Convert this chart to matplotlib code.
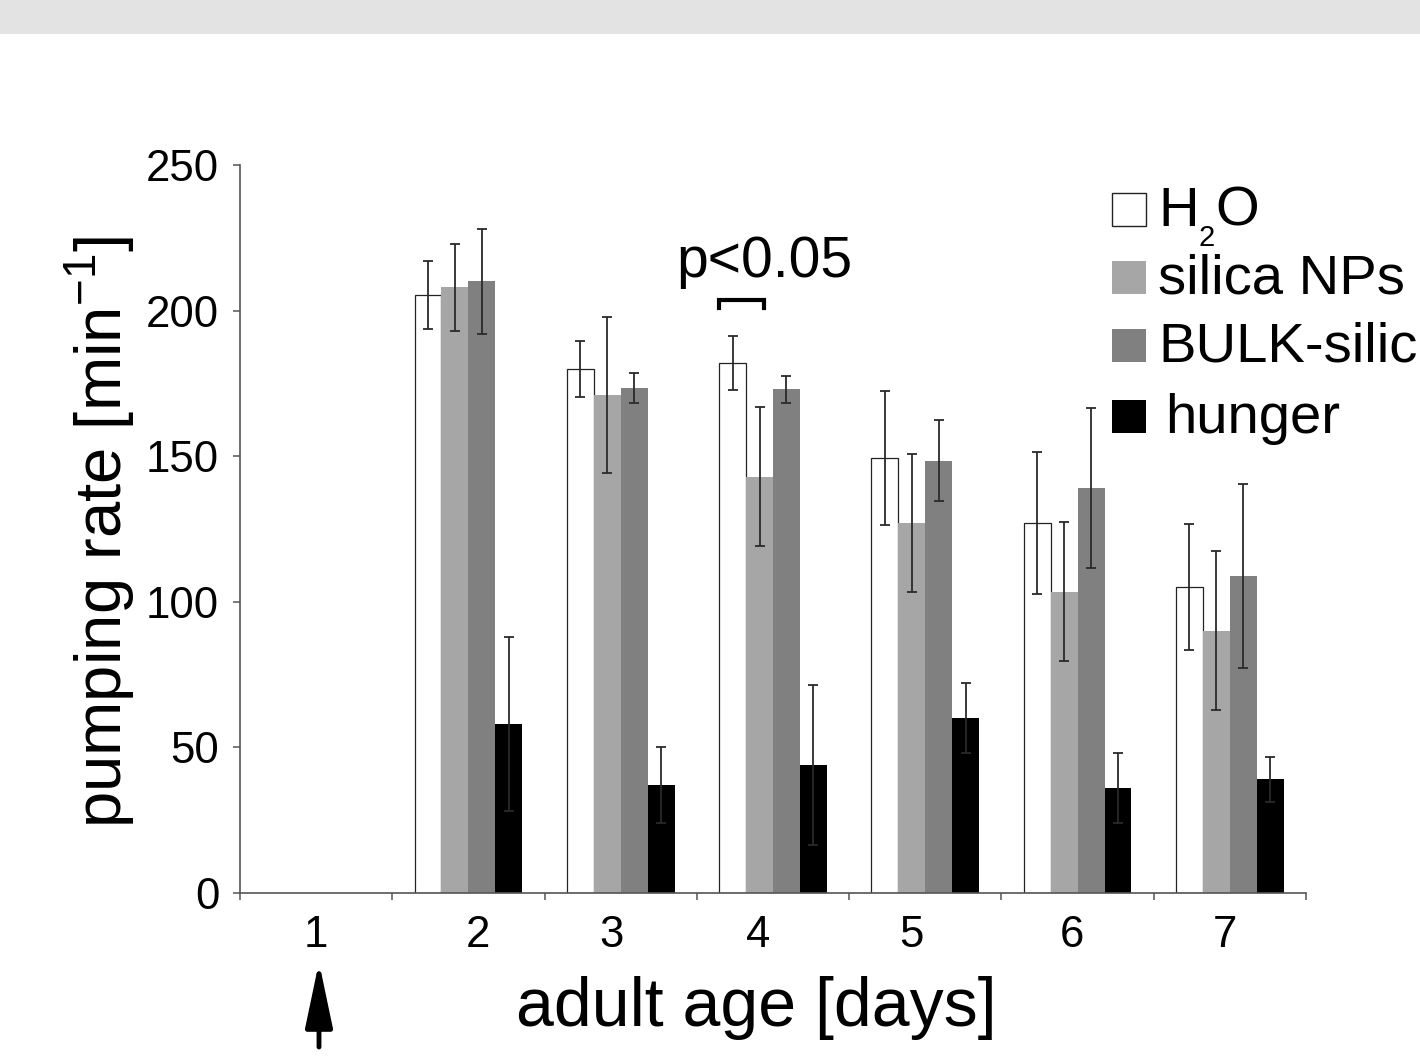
import matplotlib
matplotlib.use("Agg")
import matplotlib.pyplot as plt
import numpy as np
from matplotlib.patches import Rectangle

plt.rcParams["font.family"] = ["Liberation Sans", "DejaVu Sans"]
plt.rcParams["mathtext.fontset"] = "custom"
plt.rcParams["mathtext.rm"] = "Liberation Sans"

days = ["1", "2", "3", "4", "5", "6", "7"]
series = ["H2O", "silica NPs", "BULK-silic", "hunger"]
colors = ["white", "#a6a6a6", "#808080", "black"]

h2o = [np.nan, 205.5, 180, 182, 149.5, 127, 105]
h2o_err = [np.nan, 11.7, 9.5, 9.3, 23, 24.3, 21.6]
silica = [np.nan, 208, 171, 143, 127, 103.5, 90]
silica_err = [np.nan, 15, 26.7, 24, 23.8, 24, 27.3]
bulk = [np.nan, 210, 173.5, 173, 148.5, 139, 109]
bulk_err = [np.nan, 18, 5.2, 4.7, 14, 27.4, 31.6]
hunger = [np.nan, 58, 37, 44, 60, 36, 39]
hunger_err = [np.nan, 30, 13, 27.5, 12, 12, 7.7]

values = [h2o, silica, bulk, hunger]
errors = [h2o_err, silica_err, bulk_err, hunger_err]

W, H = 1420, 1058


def fx(px):
    return px / W


def fy(py):
    return 1 - py / H


fig = plt.figure(figsize=(14.2, 10.58), dpi=100)
fig.patches.append(Rectangle((0, fy(34)), 1, 34 / H, transform=fig.transFigure,
                             facecolor="#e3e3e3", edgecolor="none", zorder=0))
ax = fig.add_axes([fx(240), fy(893), 1066 / W, 728 / H])

x = np.arange(len(days))
w = 0.177
for i, (vals, errs, col) in enumerate(zip(values, errors, colors)):
    pos = x + (i - 1.5) * w
    ax.bar(pos, vals, width=w, color=col,
           edgecolor="#222222" if col == "white" else "none",
           linewidth=0.9, zorder=2)
    ax.errorbar(pos, vals, yerr=errs, fmt="none", ecolor="#2a2a2a",
                elinewidth=1.3, capsize=3.8, capthick=1.3, zorder=3)

# significance bracket on day 4 (H2O vs silica NPs)
bx0, bx1 = 3 - 2 * w, 3 - 0.35 * w
ax.plot([bx0, bx0, bx1, bx1], [201, 203.7, 203.7, 201], color="black", lw=3,
        solid_joinstyle="miter", zorder=4, clip_on=False)
ax.text(2.945, 211.5, "p<0.05", ha="center", va="baseline", fontsize=41)

ax.set_xlim(-0.5, len(days) - 0.5)
ax.set_ylim(0, 250)
ax.set_yticks(np.arange(0, 251, 50))
ax.set_xticks(np.arange(-0.5, len(days), 1.0))
ax.set_xticklabels([])
# day labels sit slightly off the group centres in the original
ax.set_xticks([0.0, 1.06, 1.94, 2.9, 3.91, 4.96, 5.97], minor=True)
ax.set_xticklabels(days, minor=True)
ax.tick_params(axis="x", which="major", direction="out", length=5, width=1.1, color="#555555")
ax.tick_params(axis="x", which="minor", length=0, pad=16, labelsize=31.5)
ax.tick_params(axis="y", direction="out", length=5, width=1.1, color="#555555",
               pad=10, labelsize=31.5)
for s in ["top", "right"]:
    ax.spines[s].set_visible(False)
for s in ["left", "bottom"]:
    ax.spines[s].set_color("#555555")
    ax.spines[s].set_linewidth(1.2)

fig.text(fx(122), fy(532), "pumping rate [min$^\\mathregular{-1}$]", fontsize=47,
         rotation=90, rotation_mode="anchor", ha="center", va="baseline")
fig.text(fx(756), fy(1026), "adult age [days]", fontsize=49, ha="center", va="baseline")

# arrow under day 1
ax.annotate("", xy=(fx(319), fy(962)), xytext=(fx(319), fy(1047)),
            xycoords="figure fraction", textcoords="figure fraction",
            arrowprops=dict(arrowstyle="-|>,head_length=2.0,head_width=0.42",
                            mutation_scale=20, lw=3.5, color="black",
                            shrinkA=0, shrinkB=0))

# legend drawn by hand
renderer = fig.canvas.get_renderer()
leg_y = [226, 294, 362, 433]
leg_x_text = [1158, 1158, 1158, 1165]
for col, lab, yb, xt in zip(colors, series, leg_y, leg_x_text):
    fig.patches.append(Rectangle((fx(1112), fy(yb)), 34 / W, 33 / H,
                                 transform=fig.transFigure, facecolor=col,
                                 edgecolor="#222222" if col == "white" else "none",
                                 linewidth=1.0))
    if lab == "H2O":
        t = fig.text(fx(xt), fy(yb), "H", fontsize=40.5, ha="left", va="baseline")
        x1 = t.get_window_extent(renderer).x1
        t = fig.text(x1 / W, fy(yb + 20), "2", fontsize=21, ha="left", va="baseline")
        x1 = t.get_window_extent(renderer).x1
        fig.text(x1 / W, fy(yb), "O", fontsize=40.5, ha="left", va="baseline")
    else:
        fig.text(fx(xt), fy(yb), lab, fontsize=40.5, ha="left", va="baseline")

fig.savefig("out.png", dpi=100)
